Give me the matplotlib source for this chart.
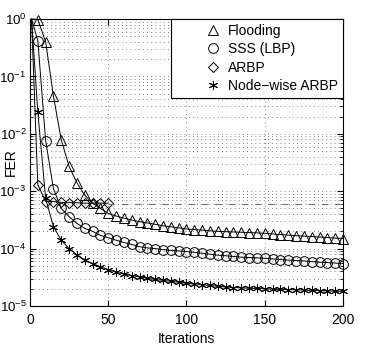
import matplotlib
matplotlib.use("Agg")
import matplotlib.pyplot as plt
import numpy as np
from matplotlib.ticker import LogLocator, NullFormatter

plt.rcParams['font.family'] = ['Liberation Sans', 'DejaVu Sans']
plt.rcParams['mathtext.fontset'] = 'custom'
plt.rcParams['mathtext.rm'] = 'Liberation Sans'
plt.rcParams['mathtext.it'] = 'Liberation Sans'

# iterations (first point is iteration 1, markers every 5 afterwards)
iters = [1, 5, 10, 15, 20, 25, 30, 35, 40, 45, 50, 55, 60, 65, 70, 75, 80, 85, 90, 95, 100,
         105, 110, 115, 120, 125, 130, 135, 140, 145, 150, 155, 160, 165, 170, 175, 180,
         185, 190, 195, 200]

flooding = [1.0, 0.98, 0.4, 0.045, 0.0078, 0.0027, 0.0014, 8.5e-4, 6.2e-4, 5.0e-4, 4.1e-4,
            3.7e-4, 3.4e-4, 3.15e-4, 2.95e-4, 2.8e-4, 2.65e-4, 2.5e-4, 2.4e-4, 2.3e-4, 2.2e-4,
            2.15e-4, 2.1e-4, 2.05e-4, 2.0e-4, 1.97e-4, 1.95e-4, 1.93e-4, 1.9e-4, 1.88e-4, 1.85e-4,
            1.8e-4, 1.76e-4, 1.72e-4, 1.68e-4, 1.65e-4, 1.62e-4, 1.59e-4, 1.56e-4, 1.53e-4, 1.5e-4]

sss = [1.0, 0.42, 0.0076, 0.0011, 5.0e-4, 3.6e-4, 2.75e-4, 2.25e-4, 2.0e-4, 1.7e-4, 1.55e-4,
       1.4e-4, 1.28e-4, 1.18e-4, 1.08e-4, 1.03e-4, 1.0e-4, 9.6e-5, 9.3e-5, 9.1e-5, 8.9e-5,
       8.6e-5, 8.3e-5, 8.0e-5, 7.7e-5, 7.5e-5, 7.3e-5, 7.1e-5, 7.0e-5, 6.9e-5, 6.8e-5,
       6.6e-5, 6.45e-5, 6.3e-5, 6.2e-5, 6.1e-5, 5.95e-5, 5.8e-5, 5.7e-5, 5.6e-5, 5.5e-5]

arbp_iters = [1, 5, 10, 15, 20, 25, 30, 35, 40, 45, 50]
arbp = [1.0, 0.0013, 6.6e-4, 6.6e-4, 6.4e-4, 6.3e-4, 6.3e-4, 6.2e-4, 6.2e-4, 6.2e-4, 6.2e-4]
arbp_floor = 6.0e-4

nodewise = [1.0, 0.024, 7.5e-4, 2.4e-4, 1.4e-4, 1.0e-4, 7.8e-5, 6.3e-5, 5.5e-5, 4.8e-5, 4.3e-5,
            3.9e-5, 3.6e-5, 3.4e-5, 3.2e-5, 3.05e-5, 2.9e-5, 2.8e-5, 2.7e-5, 2.6e-5, 2.5e-5,
            2.42e-5, 2.35e-5, 2.28e-5, 2.2e-5, 2.15e-5, 2.1e-5, 2.07e-5, 2.04e-5, 2.02e-5, 2.0e-5,
            1.97e-5, 1.95e-5, 1.93e-5, 1.91e-5, 1.9e-5, 1.87e-5, 1.85e-5, 1.83e-5, 1.81e-5, 1.8e-5]

fig = plt.figure(figsize=(3.92, 3.56), dpi=100)
ax = fig.add_axes([0.0765, 0.1404, 0.7985, 0.8062])

mk = dict(color='black', linewidth=0.7, markerfacecolor='none', markeredgecolor='black',
          markeredgewidth=0.7, markevery=slice(1, None), clip_on=False)
ax.plot(iters, flooding, marker='^', markersize=7.5, label='Flooding', **mk)
ax.plot(iters, sss, marker='o', markersize=7, label='SSS (LBP)', **mk)
ax.plot(arbp_iters, arbp, marker='D', markersize=5.5, label='ARBP', **mk)
ax.plot(iters, nodewise, marker=(6, 2, 0), markersize=6.5, label='Node\u2212wise ARBP', **mk)
ax.hlines(arbp_floor, arbp_iters[-1], iters[-1], colors='0.45', linestyles=(0, (6, 6)), linewidth=0.8)

ax.set_yscale('log')
ax.set_xlim(0, 200)
ax.set_ylim(1e-5, 1)
ax.set_xticks([0, 50, 100, 150, 200])
ax.yaxis.set_minor_locator(LogLocator(base=10, subs=np.arange(2, 10), numticks=20))
ax.yaxis.set_minor_formatter(NullFormatter())
ax.tick_params(which='both', direction='in', top=True, right=True, labelsize=10)
ax.tick_params(axis='y', which='both', pad=2.5, labelsize=9.5)
ax.tick_params(axis='x', which='both', pad=5)
ax.tick_params(which='major', length=4)
ax.tick_params(which='minor', length=2)
ax.grid(True, which='major', axis='both', color='0.35', linestyle=(0, (1, 4)), linewidth=0.6)
ax.grid(True, which='minor', axis='y', color='0.35', linestyle=(0, (1, 4)), linewidth=0.6)
for s in ax.spines.values():
    s.set_linewidth(0.8)

ax.set_xlabel('Iterations', fontsize=10)
ax.xaxis.set_label_coords(0.5, -0.09)
ax.set_ylabel('FER', fontsize=10)
ax.yaxis.set_label_coords(-0.038, 0.5)

leg = ax.legend(loc='upper right', borderaxespad=0, handlelength=5.4, handletextpad=-1.6,
                fontsize=10, fancybox=False, edgecolor='black', framealpha=1,
                labelspacing=0.32, borderpad=0.35)
leg.get_frame().set_linewidth(0.8)
for h in leg.legend_handles:
    h.set_linestyle('none')

fig.savefig('out.png', dpi=100)
